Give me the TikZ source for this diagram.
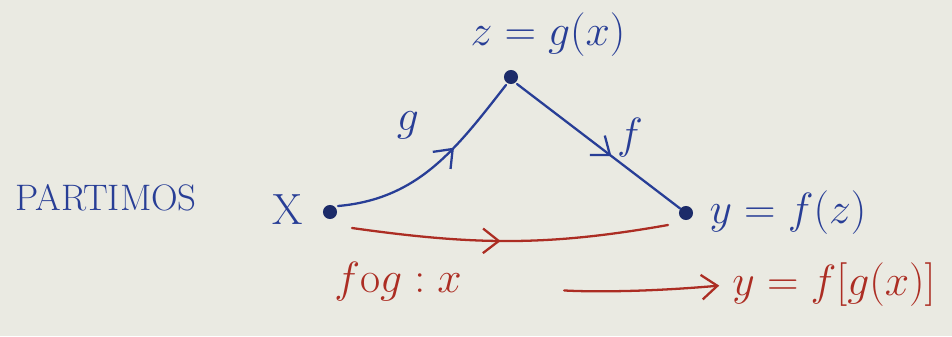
\documentclass[tikz,border=0pt]{standalone}
\usepackage{amsmath}
\usepackage{tikz}
\usetikzlibrary{positioning,arrows.meta,decorations.markings}

\definecolor{tinta}{RGB}{40,62,150}
\definecolor{rojo}{RGB}{172,45,35}
\definecolor{papel}{RGB}{234,234,226}

\tikzset{
  punto/.style={circle,fill=tinta!70!black,inner sep=0pt,minimum size=8pt},
  trazo/.style={line width=1.3pt,line cap=round},
  flechamedio/.style={decoration={markings,
      mark=at position #1 with {\arrow{Straight Barb[length=9pt,width=14pt,line width=1.3pt]}}},
    postaction={decorate}},
}

\begin{document}
\begin{tikzpicture}[x=0.02cm,y=-0.02cm]
	\fill[papel] (0,0) rectangle (952,336);
	\useasboundingbox (0,0) rectangle (952,336);
	% los tres puntos
	\node[punto] (x) at (330,212) {};
	\node[punto] (z) at (511,77) {};
	\node[punto] (y) at (686,213) {};
	% textos
	\node[tinta,font=\fontsize{21}{25}\selectfont] (part) at (106,198) {PARTIMOS};
	\node[tinta,font=\Huge] (lx) at (288,210) {X};
	\node[tinta,font=\Huge] (lz) at (548,35) {$z=g(x)$};
	\node[tinta,font=\Huge] (lg) at (408,125) {$g$};
	\node[tinta,font=\Huge] (lf) at (630,138) {$f$};
	\node[tinta,font=\Huge] (ly) at (788,213) {$y=f(z)$};
	\node[rojo,font=\Huge] (fog) at (398,282) {$f\mathrm{o}g:x$};
	\node[rojo,font=\Huge] (lfg) at (834,285) {$y=f[g(x)]$};
	% flechas
	\draw[tinta,trazo,flechamedio=0.62] ([shift={(8,-6)}]x.center) to[out=5,in=232] ([shift={(-5,8)}]z.center);
	\draw[tinta,trazo,flechamedio=0.58] ([shift={(6,7)}]z.center) -- (y);
	\draw[rojo,trazo,flechamedio=0.47] ([shift={(22,16)}]x.center) to[out=-8,in=190] ([shift={(-18,12)}]y.center);
	\draw[rojo,trazo,-{Straight Barb[length=9pt,width=14pt]},shorten <=55pt,shorten >=4pt] (fog.east) to[out=-5,in=185] (lfg.west);
\end{tikzpicture}
\end{document}
